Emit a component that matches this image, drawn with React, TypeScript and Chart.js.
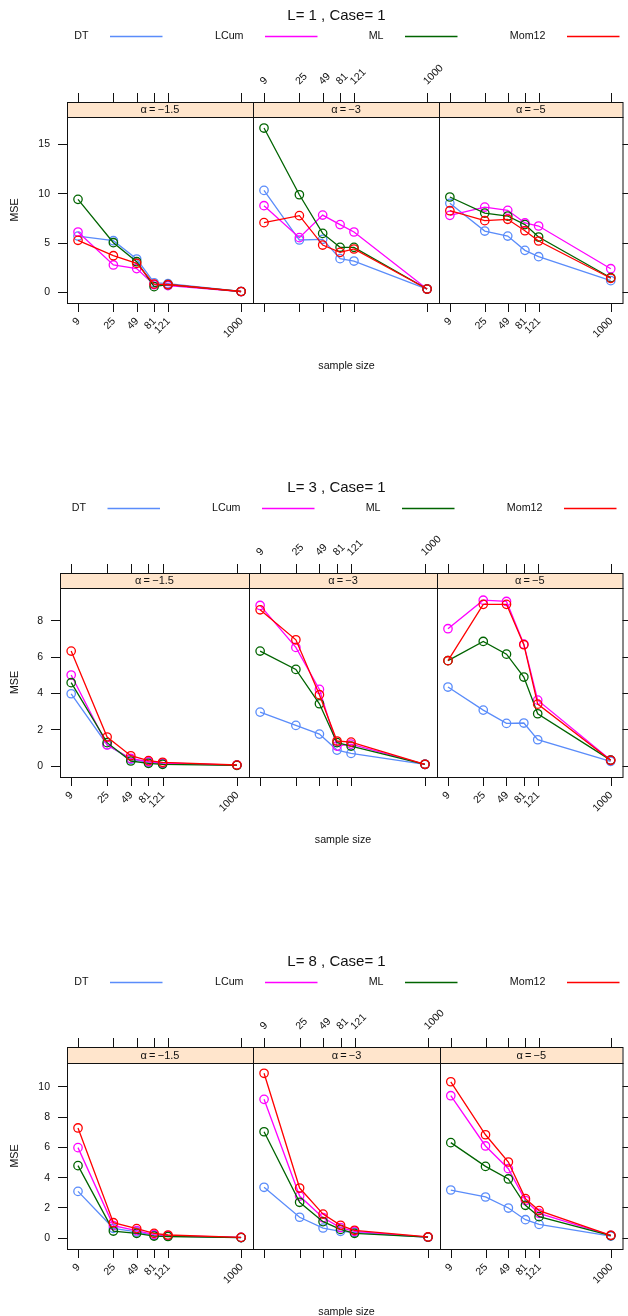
import React, { useEffect, useRef } from 'react';
import { Chart, registerables } from 'chart.js';

Chart.register(...registerables);

// ---------------- data ----------------
const sampleSizes = [9, 25, 49, 81, 121, 1000];
const xTickLabels = ['9', '25', '49', '81', '121', '1000'];
const methods = ['DT', 'LCum', 'ML', 'Mom12'];
const alphaLabels = ['α=−1.5', 'α=−3', 'α=−5'];
const blockTitles = ['L= 1 , Case= 1', 'L= 3 , Case= 1', 'L= 8 , Case= 1'];
const yTicksL1 = [0, 5, 10, 15];
const yTicksL3 = [0, 2, 4, 6, 8];
const yTicksL8 = [0, 2, 4, 6, 8, 10];

// rows: alpha = -1.5, -3, -5 ; columns: sample sizes
const L1_DT = [
  [5.67, 5.2, 3.34, 0.94, 0.84, 0.05],
  [10.3, 5.27, 5.34, 3.38, 3.14, 0.3],
  [8.99, 6.18, 5.67, 4.22, 3.58, 1.15],
];
const L1_LCum = [
  [6.08, 2.74, 2.37, 0.74, 0.64, 0.04],
  [8.75, 5.51, 7.8, 6.83, 6.08, 0.3],
  [7.77, 8.61, 8.28, 7.0, 6.69, 2.36],
];
const L1_ML = [
  [9.39, 5.0, 3.07, 0.54, 0.74, 0.05],
  [16.62, 9.86, 5.94, 4.53, 4.53, 0.3],
  [9.63, 8.0, 7.7, 6.83, 5.57, 1.45],
];
const L1_Mom12 = [
  [5.24, 3.68, 2.9, 0.8, 0.76, 0.05],
  [7.03, 7.74, 4.76, 4.02, 4.36, 0.3],
  [8.24, 7.23, 7.37, 6.21, 5.17, 1.39],
];

const L3_DT = [
  [3.96, 1.16, 0.35, 0.2, 0.12, 0.03],
  [2.95, 2.22, 1.74, 0.86, 0.68, 0.07],
  [4.33, 3.06, 2.33, 2.35, 1.43, 0.24],
];
const L3_LCum = [
  [4.99, 1.14, 0.4, 0.22, 0.15, 0.03],
  [8.82, 6.51, 4.2, 1.08, 1.19, 0.08],
  [7.54, 9.11, 9.04, 6.69, 3.61, 0.31],
];
const L3_ML = [
  [4.57, 1.27, 0.26, 0.13, 0.08, 0.02],
  [6.31, 5.3, 3.41, 1.27, 1.08, 0.08],
  [5.78, 6.84, 6.14, 4.88, 2.86, 0.31],
];
const L3_Mom12 = [
  [6.31, 1.58, 0.55, 0.28, 0.19, 0.04],
  [8.58, 6.93, 3.91, 1.36, 1.3, 0.08],
  [5.78, 8.88, 8.88, 6.66, 3.39, 0.3],
];

const L8_DT = [
  [3.06, 0.62, 0.38, 0.15, 0.1, 0.01],
  [3.33, 1.35, 0.64, 0.42, 0.35, 0.03],
  [3.15, 2.69, 1.96, 1.19, 0.88, 0.11],
];
const L8_LCum = [
  [5.95, 0.8, 0.47, 0.2, 0.14, 0.02],
  [9.14, 2.75, 1.32, 0.67, 0.42, 0.04],
  [9.38, 6.06, 4.56, 2.45, 1.61, 0.15],
];
const L8_ML = [
  [4.76, 0.44, 0.29, 0.11, 0.08, 0.01],
  [7.0, 2.34, 1.06, 0.55, 0.29, 0.04],
  [6.28, 4.71, 3.88, 2.14, 1.39, 0.14],
];
const L8_Mom12 = [
  [7.25, 0.99, 0.6, 0.29, 0.18, 0.02],
  [10.86, 3.28, 1.56, 0.82, 0.49, 0.05],
  [10.3, 6.8, 5.0, 2.58, 1.79, 0.16],
];

const SERIES = [
  [L1_DT, L1_LCum, L1_ML, L1_Mom12],
  [L3_DT, L3_LCum, L3_ML, L3_Mom12],
  [L8_DT, L8_LCum, L8_ML, L8_Mom12],
];
const Y_TICKS = [yTicksL1, yTicksL3, yTicksL8];

// ---------------- styles / layout ----------------
const COLORS = ['#5a8cfa', '#ff00ff', '#006400', '#ff0000'];
const STRIP_BG = '#ffe5cc';
const FONT = '"Liberation Sans", Arial, Helvetica, sans-serif';
const W = 628;
const TICK = 9;
const XMIN = 6.55;
const XMAX = 1410;

const BLOCKS = [
  { top: 0, height: 472, panelX: [67, 253, 439, 626], stripTop: 102, panelTop: 117, panelBottom: 303, yMin: -1.115, yMax: 17.74, legendX: [110, 265, 405, 567] },
  { top: 472, height: 474, panelX: [60, 249, 437, 626], stripTop: 573, panelTop: 588, panelBottom: 777, yMin: -0.62, yMax: 9.78, legendX: [107.5, 262, 402, 564] },
  { top: 946, height: 370, panelX: [67, 253, 440, 626], stripTop: 1047, panelTop: 1063, panelBottom: 1249, yMin: -0.746, yMax: 11.54, legendX: [110, 265, 405, 567] },
];

function drawStripText(ctx: CanvasRenderingContext2D, label: string, cx: number, cy: number) {
  const parts = label.split('=');
  const gap = 2.2;
  ctx.font = `11px ${FONT}`;
  ctx.textBaseline = 'middle';
  ctx.textAlign = 'left';
  const w0 = ctx.measureText(parts[0]).width;
  const w1 = ctx.measureText('=').width;
  const w2 = ctx.measureText(parts[1]).width;
  const total = w0 + gap + w1 + gap + w2;
  let x = cx - total / 2;
  ctx.fillText(parts[0], x, cy);
  x += w0 + gap;
  ctx.fillText('=', x, cy);
  x += w1 + gap;
  ctx.fillText(parts[1], x, cy);
}

function decoPlugin(bi: number, p: number) {
  const blk = BLOCKS[bi];
  return {
    id: `lattice${bi}${p}`,
    afterDraw(chart: any) {
      const ctx: CanvasRenderingContext2D = chart.ctx;
      const { left, right, top, bottom } = chart.chartArea;
      const xs = chart.scales.x;
      const ys = chart.scales.y;
      const off = blk.top;
      const stripTop = blk.stripTop - off;
      ctx.save();
      ctx.strokeStyle = '#111';
      ctx.lineWidth = 1;

      // strip
      ctx.fillStyle = STRIP_BG;
      ctx.fillRect(left, stripTop, right - left, top - stripTop);
      ctx.strokeRect(left + 0.5, stripTop + 0.5, right - left, top - stripTop);
      ctx.fillStyle = '#111';
      drawStripText(ctx, alphaLabels[p], (left + right) / 2, (stripTop + top) / 2 + 0.5);

      // panel frame
      ctx.strokeRect(left + 0.5, top + 0.5, right - left, bottom - top);

      // x ticks
      ctx.beginPath();
      sampleSizes.forEach((v) => {
        const px = Math.round(xs.getPixelForValue(v)) + 0.5;
        ctx.moveTo(px, bottom);
        ctx.lineTo(px, bottom + TICK);
        ctx.moveTo(px, stripTop - TICK);
        ctx.lineTo(px, stripTop);
      });
      // y ticks
      Y_TICKS[bi].forEach((v) => {
        const py = Math.round(ys.getPixelForValue(v)) + 0.5;
        if (p === 0) {
          ctx.moveTo(left - TICK, py);
          ctx.lineTo(left, py);
        }
        if (p === 2) {
          ctx.moveTo(right, py);
          ctx.lineTo(right + TICK, py);
        }
      });
      ctx.stroke();

      // tick labels
      ctx.font = `10.5px ${FONT}`;
      ctx.fillStyle = '#111';
      sampleSizes.forEach((v, j) => {
        const px = xs.getPixelForValue(v);
        ctx.save();
        if (p === 1) {
          ctx.translate(px - 2, stripTop - TICK - 10);
          ctx.rotate(-Math.PI / 4);
          ctx.textAlign = 'left';
        } else {
          ctx.translate(px + 0.5, bottom + TICK + 7.5);
          ctx.rotate(-Math.PI / 4);
          ctx.textAlign = 'right';
        }
        ctx.textBaseline = 'middle';
        ctx.fillText(xTickLabels[j], 0, 0);
        ctx.restore();
      });
      if (p === 0) {
        ctx.textAlign = 'right';
        ctx.textBaseline = 'middle';
        Y_TICKS[bi].forEach((v) => {
          const py = ys.getPixelForValue(v);
          ctx.fillText(String(v), left - TICK - 8, py + 0.5);
        });

        // block-level text: title, legend, axis titles
        ctx.font = `15px ${FONT}`;
        ctx.textAlign = 'center';
        ctx.textBaseline = 'middle';
        ctx.fillText(blockTitles[bi], 336.5, 16);

        ctx.font = `10.7px ${FONT}`;
        methods.forEach((m, i) => {
          const lx = blk.legendX[i];
          const ly = 36.3;
          ctx.fillStyle = '#111';
          ctx.textAlign = 'right';
          ctx.fillText(m, lx - 21.5, ly);
          ctx.strokeStyle = COLORS[i];
          ctx.lineWidth = 1.3;
          ctx.beginPath();
          ctx.moveTo(lx, Math.round(ly) + 0.5);
          ctx.lineTo(lx + 52.5, Math.round(ly) + 0.5);
          ctx.stroke();
        });

        ctx.fillStyle = '#111';
        ctx.textAlign = 'center';
        ctx.save();
        ctx.translate(14.7, (blk.panelTop + blk.panelBottom) / 2 - off);
        ctx.rotate(-Math.PI / 2);
        ctx.fillText('MSE', 0, 0);
        ctx.restore();
        ctx.fillText('sample size', (blk.panelX[0] + blk.panelX[3]) / 2, blk.panelBottom - off + 63);
      }
      ctx.restore();
    },
  };
}

function buildConfig(bi: number, p: number): any {
  const blk = BLOCKS[bi];
  const series = SERIES[bi];
  const datasets = methods.map((m, i) => ({
    label: m,
    data: sampleSizes.map((x, j) => ({ x, y: series[i][p][j] })),
    borderColor: COLORS[i],
    backgroundColor: COLORS[i],
    borderWidth: 1.3,
    pointRadius: 4.2,
    pointBorderWidth: 1.3,
    pointBackgroundColor: 'rgba(0,0,0,0)',
    pointBorderColor: COLORS[i],
    pointStyle: 'circle',
    fill: false,
    tension: 0,
    order: methods.length - i,
    clip: false,
  }));
  return {
    type: 'line',
    data: { datasets },
    options: {
      animation: false,
      responsive: false,
      maintainAspectRatio: false,
      events: [],
      layout: {
        padding: {
          left: blk.panelX[p],
          right: W - blk.panelX[p + 1],
          top: blk.panelTop - blk.top,
          bottom: blk.top + blk.height - blk.panelBottom,
        },
      },
      plugins: { legend: { display: false }, tooltip: { enabled: false }, title: { display: false } },
      scales: {
        x: { type: 'logarithmic', min: XMIN, max: XMAX, bounds: 'data', display: false },
        y: { type: 'linear', min: blk.yMin, max: blk.yMax, display: false },
      },
    },
    plugins: [decoPlugin(bi, p)],
  };
}

export default function App() {
  const refs = useRef<(HTMLCanvasElement | null)[]>([]);
  useEffect(() => {
    const charts: Chart[] = [];
    BLOCKS.forEach((blk, bi) => {
      for (let p = 0; p < 3; p++) {
        const c = refs.current[bi * 3 + p];
        if (c) charts.push(new Chart(c, buildConfig(bi, p)));
      }
    });
    return () => charts.forEach((c) => c.destroy());
  }, []);
  return (
    <div style={{ position: 'absolute', left: 0, top: 0, width: W, height: 1316, background: '#fff', overflow: 'hidden' }}>
      {BLOCKS.map((blk, bi) =>
        [0, 1, 2].map((p) => (
          <canvas
            key={`${bi}-${p}`}
            ref={(el) => {
              refs.current[bi * 3 + p] = el;
            }}
            width={W}
            height={blk.height}
            style={{ position: 'absolute', left: 0, top: blk.top, width: W, height: blk.height }}
          />
        ))
      )}
    </div>
  );
}
